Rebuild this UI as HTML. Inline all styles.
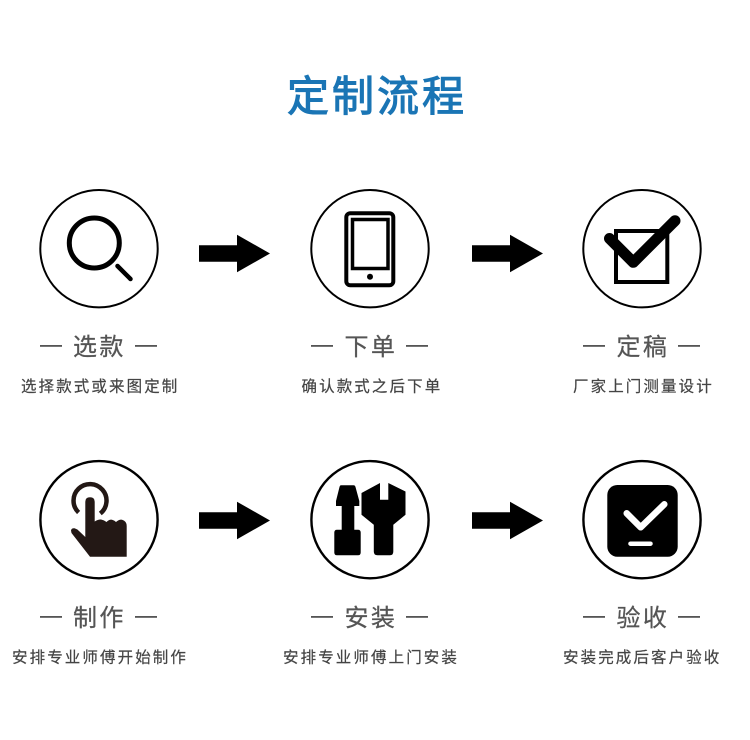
<!DOCTYPE html>
<html><head><meta charset="utf-8"><style>
html,body{margin:0;padding:0;background:#fff}
svg{display:block}
text{font-family:"Liberation Sans","Noto Sans CJK SC",sans-serif}
.t{font-size:42px;font-weight:400;fill:#1a75b5;stroke:#1a75b5;stroke-width:1.1px;letter-spacing:3px}
.h{font-size:24px;fill:#555;stroke:#555;stroke-width:.25px;letter-spacing:2.4px}
.s{font-size:15.5px;fill:#444;stroke:#444;stroke-width:.2px;letter-spacing:2.1px}
.c{fill:none;stroke:#000;stroke-width:2}
.d{fill:none;stroke:#000;stroke-width:2.4}
</style></head><body>
<svg width="750" height="740" viewBox="0 0 750 740" xmlns="http://www.w3.org/2000/svg">
<rect width="750" height="740" fill="#fff"/>
<text class="t" x="287" y="111">定制流程</text>

<circle class="c" cx="99" cy="248.7" r="58.7"/><circle class="c" cx="370" cy="248.7" r="58.7"/><circle class="c" cx="642" cy="248.7" r="58.7"/>
<circle class="d" cx="99" cy="519.7" r="58.6"/><circle class="d" cx="370" cy="519.7" r="58.6"/><circle class="d" cx="642" cy="519.7" r="58.6"/>

<polygon points="199,245.3 237,245.3 237,234.7 270,253.5 237,272.3 237,261.7 199,261.7"/>
<polygon points="472,245.3 510,245.3 510,234.7 543,253.5 510,272.3 510,261.7 472,261.7"/>
<polygon points="199,512.3 237,512.3 237,501.7 270,520.5 237,539.3 237,528.7 199,528.7"/>
<polygon points="472,512.3 510,512.3 510,501.7 543,520.5 510,539.3 510,528.7 472,528.7"/>

<circle cx="94.3" cy="243" r="25" fill="none" stroke="#000" stroke-width="5"/>
<line x1="117.5" y1="266" x2="130.5" y2="279" stroke="#000" stroke-width="4.5" stroke-linecap="round"/>

<rect x="346.3" y="213.3" width="47" height="72" rx="4" fill="none" stroke="#000" stroke-width="4"/>
<rect x="352.5" y="219.5" width="35.5" height="49" fill="none" stroke="#000" stroke-width="3.5"/>
<circle cx="370" cy="276.7" r="3"/>

<rect x="616" y="231" width="51.3" height="51" fill="none" stroke="#000" stroke-width="4"/>
<polyline points="609.5,238.5 633.3,262.3 675,220.7" fill="none" stroke="#000" stroke-width="11" stroke-linecap="round" stroke-linejoin="round"/>

<path d="M78.6,512.5 A16.5,16.5 0 1 1 100.3,513.5" fill="none" stroke="#231815" stroke-width="4.5"/>
<path d="M71,530.5 Q71.5,528 74.5,528.3 Q77,529 79,531 L85.3,537 V501.7 Q85.3,497.3 90,497.3 Q94.7,497.3 94.7,501.7 V521.5 Q98,519.3 101,519.5 Q104,520 106.5,522 Q109,519.3 112,519.7 Q114.5,520.2 116,522 Q119,519.3 122,519.7 Q126.7,521 126.7,526 V556.7 H90 L71.5,533 Z" fill="#231815"/>

<path d="M341,485.3 H353.5 Q355,485.3 355.5,487 L359.3,501 V506 H354.3 V529.7 H358 Q360.7,529.7 360.7,532.5 V552.5 Q360.7,555.3 358,555.3 H337 Q334.3,555.3 334.3,552.5 V532.5 Q334.3,529.7 337,529.7 H341.7 V506 H336 V501 L339.5,487 Q340,485.3 341,485.3 Z"/>
<path d="M380,483 L361.5,493 V514.7 L373.8,524.7 V551.5 Q373.8,555.3 377.5,555.3 H390 Q393.3,555.3 393.3,551.5 V524.7 L405.5,514.7 V491.5 L388.3,483 V499.7 H380 Z"/>

<rect x="607.3" y="485" width="70.4" height="71.7" rx="10"/>
<polyline points="626.7,513.3 640.7,527.3 664.3,504.3" fill="none" stroke="#fff" stroke-width="6.5" stroke-linecap="round" stroke-linejoin="round"/>
<line x1="630.5" y1="543.7" x2="650.5" y2="543.7" stroke="#fff" stroke-width="4.5" stroke-linecap="round"/>

<g fill="#555">
<rect x="40" y="345" width="22" height="1.8"/><rect x="135" y="345" width="22" height="1.8"/>
<rect x="311" y="345" width="22" height="1.8"/><rect x="406" y="345" width="22" height="1.8"/>
<rect x="583" y="345" width="22" height="1.8"/><rect x="678" y="345" width="22" height="1.8"/>
<rect x="40" y="616" width="22" height="1.8"/><rect x="135" y="616" width="22" height="1.8"/>
<rect x="311" y="616" width="22" height="1.8"/><rect x="406" y="616" width="22" height="1.8"/>
<rect x="583" y="616" width="22" height="1.8"/><rect x="678" y="616" width="22" height="1.8"/>
</g>

<text class="h" x="73" y="355">选款</text>
<text class="h" x="344.5" y="355">下单</text>
<text class="h" x="616.5" y="355">定稿</text>
<text class="h" x="73" y="626">制作</text>
<text class="h" x="344.5" y="626">安装</text>
<text class="h" x="616.5" y="626">验收</text>

<text class="s" x="21" y="391.5">选择款式或来图定制</text>
<text class="s" x="301.5" y="391.5">确认款式之后下单</text>
<text class="s" x="573" y="391.5">厂家上门测量设计</text>
<text class="s" x="12" y="662.5">安排专业师傅开始制作</text>
<text class="s" x="283" y="662.5">安排专业师傅上门安装</text>
<text class="s" x="563" y="662.5">安装完成后客户验收</text>
</svg>
</body></html>
